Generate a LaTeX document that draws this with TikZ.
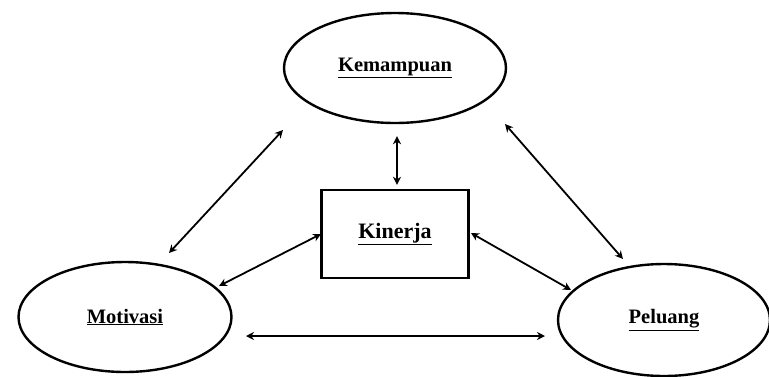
\documentclass[tikz,border=0pt]{standalone}
\usepackage{fontspec}
\setmainfont{Liberation Serif}
\usetikzlibrary{arrows.meta,shapes.geometric}
\begin{document}
\begin{tikzpicture}[x=1pt,y=-1pt,
  ell/.style={draw,line width=2.4pt,ellipse,inner sep=0pt},
  box/.style={draw,line width=2.4pt,rectangle,inner sep=0pt},
  lbl/.style={font=\fontsize{20.5}{22}\selectfont\bfseries},
  link/.style={line width=1.8pt,{Stealth[length=8pt,width=8pt]}-{Stealth[length=8pt,width=8pt]}}]
\useasboundingbox (0,0) rectangle (769,376);
\node[ell,minimum width=222pt,minimum height=110pt] (kem) at (395,68) {};
\node[lbl] at (kem.center) {\underline{Kemampuan}};
\node[box,minimum width=147pt,minimum height=88pt] (kin) at (395,234) {};
\node[lbl,font=\fontsize{22}{24}\selectfont\bfseries] at (kin.center) {\underline{Kinerja}};
\node[ell,minimum width=213pt,minimum height=110pt] (mot) at (125,317) {};
\node[lbl] at (mot.center) {\underline{Motivasi}};
\node[ell,minimum width=212pt,minimum height=112pt] (pel) at (664,320) {};
\node[lbl] at (pel.center) {\underline{Peluang}};
% connector end points
\coordinate (km1) at (283,130);
\coordinate (km2) at (169,253);
\coordinate (kp1) at (505,124);
\coordinate (kp2) at (623,259);
\coordinate (mk1) at (219,286);
\coordinate (mk2) at (321,234);
\coordinate (kpl1) at (471,233);
\coordinate (kpl2) at (571,290);
\coordinate (mp1) at (246,336);
\coordinate (mp2) at (545,336);
\draw[link] (km1) -- (km2);
\draw[link] (kp1) -- (kp2);
\draw[link] (mk1) -- (mk2);
\draw[link] (kpl1) -- (kpl2);
\draw[link] (mp1) -- (mp2);
\draw[link,shorten <=12pt,shorten >=4pt] ([xshift=2pt]kem.south) -- ([xshift=2pt]kin.north);
\end{tikzpicture}
\end{document}
